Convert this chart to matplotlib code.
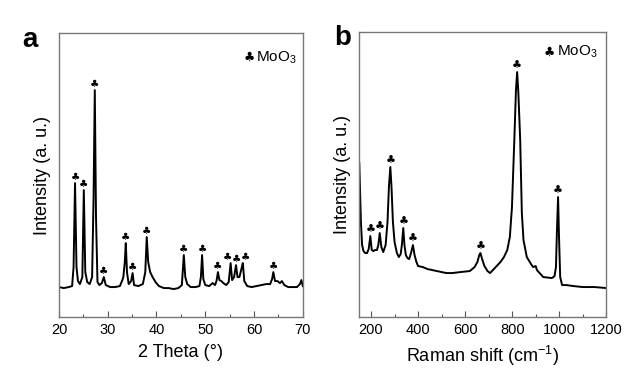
import numpy as np
import matplotlib
matplotlib.use("Agg")
import matplotlib.pyplot as plt

plt.rcParams['font.family'] = ['Liberation Sans', 'DejaVu Sans']
plt.rcParams['mathtext.fontset'] = 'custom'
plt.rcParams['mathtext.rm'] = 'Liberation Sans'
plt.rcParams['mathtext.it'] = 'Liberation Sans'

# (a) XRD pattern
xrd_theta = [20.0, 21.0, 22.0, 22.7, 23.0, 23.3, 23.6, 23.9, 24.3, 24.8, 25.1, 25.4,
             25.8, 26.3, 26.8, 27.1, 27.35, 27.6, 27.9, 28.3, 28.8, 29.2, 29.6, 30.5,
             31.5, 32.5, 33.0, 33.2, 33.5, 33.7, 33.95, 34.3, 34.8, 35.1, 35.4, 36.3,
             37.2, 37.7, 38.0, 38.3, 38.7, 39.2, 39.8, 40.5, 41.5, 42.5, 43.5, 44.5,
             45.2, 45.6, 45.9, 46.3, 47.0, 48.0, 48.8, 49.1, 49.35, 49.6, 50.0, 50.8,
             51.5, 52.0, 52.3, 52.6, 52.9, 53.3, 53.7, 54.3, 54.8, 55.2, 55.5, 55.9,
             56.3, 56.6, 57.0, 57.5, 57.7, 58.0, 58.6, 59.5, 60.5, 61.5, 62.5, 63.3,
             63.7, 63.95, 64.3, 64.8, 65.3, 65.7, 66.2, 67.0, 68.0, 68.8, 69.4, 69.7,
             70.0]
xrd_int = [30, 29, 30, 31, 50, 134, 50, 36, 33, 40, 127, 45,
           35, 33, 40, 120, 227, 100, 35, 32, 34, 40, 32, 30,
           30, 31, 37, 40, 55, 74, 45, 33, 36, 44, 32, 31,
           33, 45, 80, 55, 45, 40, 35, 31, 29, 29, 28, 29,
           32, 62, 40, 33, 30, 30, 31, 40, 62, 38, 32, 31,
           34, 32, 36, 45, 37, 36, 34, 32, 35, 54, 37, 40,
           52, 40, 40, 50, 54, 36, 31, 30, 31, 32, 33, 33,
           38, 45, 36, 36, 34, 36, 32, 30, 30, 30, 33, 37,
           31]
xrd_peaks = [23.3, 25.1, 27.35, 29.2, 33.7, 35.1, 38.0, 45.6, 49.35, 52.6,
             55.2, 56.3, 57.7, 63.95]

# (b) Raman spectrum
raman_shift = [150, 153, 157, 162, 168, 175, 183, 190, 197, 203, 210, 217, 225,
               231, 237, 244, 252, 262, 270, 276, 282, 287, 293, 300, 310, 318,
               326, 331, 337, 342, 348, 355, 362, 370, 378, 385, 393, 400, 420,
               440, 460, 480, 500, 520, 545, 580, 620, 640, 652, 660, 665, 672,
               682, 695, 706, 730, 750, 765, 779, 790, 799, 809, 816, 821, 826,
               834, 841, 848, 862, 880, 889, 900, 905, 932, 969, 980, 986, 990,
               995, 999, 1004, 1012, 1030, 1060, 1100, 1150, 1200]
raman_int = [154, 130, 95, 72, 66, 64, 64, 68, 81, 67, 66, 67, 67,
             72, 84, 70, 65, 72, 95, 130, 150, 130, 95, 75, 64, 60,
             63, 72, 89, 72, 62, 59, 58, 64, 72, 62, 55, 51, 50,
             48, 47, 46, 45, 44, 44, 45, 46, 50, 55, 62, 64, 58,
             51, 46, 44, 50, 55, 60, 67, 80, 110, 177, 227, 245, 225,
             177, 104, 77, 60, 53, 50, 51, 47, 40, 39, 41, 50, 85,
             120, 80, 40, 32, 32, 31, 30, 30, 29]
raman_peaks = [197, 237, 282, 337, 378, 665, 821, 995]

fig = plt.figure(figsize=(6.27, 3.77), dpi=100)
ax_a = fig.add_axes([0.094, 0.159, 0.389, 0.753])
ax_b = fig.add_axes([0.573, 0.159, 0.394, 0.756])


def style_axes(ax):
    for s in ax.spines.values():
        s.set_color('#777777')
        s.set_linewidth(1.0)
    ax.set_yticks([])
    ax.tick_params(axis='x', which='major', direction='in', length=4,
                   width=0.8, color='#555555', labelsize=10.5, pad=4)
    ax.tick_params(axis='x', which='minor', direction='in', length=2.5,
                   width=0.8, color='#555555')
    ax.set_ylabel('Intensity (a. u.)', fontsize=13, labelpad=6)


def mark_peaks(ax, xs, ys, peaks, size=8):
    heights = np.interp(peaks, xs, ys)
    # nudge crowded neighbours apart a little
    shifts = np.zeros(len(peaks))
    for i in range(1, len(peaks) - 1):
        if peaks[i] - peaks[i - 1] < 1.5 and peaks[i + 1] - peaks[i] < 1.5:
            shifts[i - 1] -= 2.0
            shifts[i + 1] += 2.0
    for px, py, dx in zip(peaks, heights, shifts):
        ax.annotate('\u2663', (px, py), xytext=(dx, 1), textcoords='offset points',
                    ha='center', va='bottom', fontsize=size,
                    family=['DejaVu Sans'])


# panel a
ax_a.plot(xrd_theta, xrd_int, color='black', lw=1.4)
ax_a.set_xlim(20, 70)
ax_a.set_ylim(0, 284)
ax_a.set_xticks([20, 30, 40, 50, 60, 70])
ax_a.set_xticks(np.arange(25, 70, 10), minor=True)
style_axes(ax_a)
ax_a.set_xlabel('2 Theta (\u00b0)', fontsize=13, labelpad=5)
mark_peaks(ax_a, xrd_theta, xrd_int, xrd_peaks, size=7.5)
ax_a.text(0.78, 0.915, '\u2663', transform=ax_a.transAxes, fontsize=9,
          ha='center', va='center', family=['DejaVu Sans'])
ax_a.text(0.81, 0.915, 'MoO$_3$', transform=ax_a.transAxes, fontsize=11,
          ha='left', va='center')
fig.text(0.035, 0.875, 'a', fontsize=20, fontweight='bold')

# panel b
ax_b.plot(raman_shift, raman_int, color='black', lw=1.4)
ax_b.set_xlim(150, 1200)
ax_b.set_ylim(0, 285)
ax_b.set_xticks([200, 400, 600, 800, 1000, 1200])
ax_b.set_xticks(np.arange(300, 1200, 200), minor=True)
style_axes(ax_b)
ax_b.set_xlabel('Raman shift (cm$^{-1}$)', fontsize=13, labelpad=5)
mark_peaks(ax_b, raman_shift, raman_int, raman_peaks)
ax_b.text(0.77, 0.93, '\u2663', transform=ax_b.transAxes, fontsize=9,
          ha='center', va='center', family=['DejaVu Sans'])
ax_b.text(0.80, 0.93, 'MoO$_3$', transform=ax_b.transAxes, fontsize=11,
          ha='left', va='center')
fig.text(0.533, 0.88, 'b', fontsize=20, fontweight='bold')

fig.savefig('out.png', dpi=100)
